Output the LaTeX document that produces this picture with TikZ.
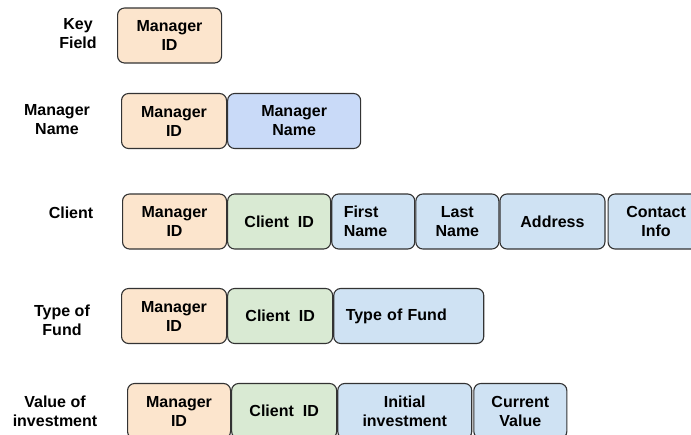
\documentclass[tikz,border=0pt]{standalone}
\usepackage{fontspec}
\setmainfont{Liberation Sans}
\usetikzlibrary{positioning}

\definecolor{keyorange}{HTML}{FCE5CD}
\definecolor{idgreen}{HTML}{D9EAD3}
\definecolor{nameblue}{HTML}{C9DAF8}
\definecolor{infoblue}{HTML}{CFE2F3}
\definecolor{edgegray}{HTML}{333333}

\begin{document}
\begin{tikzpicture}[
    x=1pt, y=-1pt,
    font=\fontsize{16}{19}\selectfont\bfseries,
    node distance=0pt,
    field/.style={draw=edgegray, line width=1.1pt, rounded corners=7pt, align=center,
        minimum width=#1, minimum height=55pt, inner xsep=12pt, inner ysep=2pt},
    mgr/.style={field=#1, fill=keyorange},
    cid/.style={field=#1, fill=idgreen},
    info/.style={field=#1, fill=infoblue},
    rowlabel/.style={align=center}
]
    \useasboundingbox (0,0) rectangle (691,434);
    \clip (0,0) rectangle (691,434);

    \node[rowlabel] (lbl-key) at (78,34) {Key\\Field};
    \node[mgr=104, anchor=west] (key-mid) at (117,35.5) {Manager\\ID};

    \node[rowlabel] (lbl-mgr) at (57,120) {Manager\\Name};
    \node[mgr=105, anchor=west] (mgr-mid) at (121,121) {Manager\\ID};
    \node[field=133, fill=nameblue, right=of mgr-mid] (mgr-name) {Manager\\Name};

    \node[rowlabel] (lbl-cli) at (71,213) {Client};
    \node[mgr=104, anchor=west] (cli-mid) at (122,221.5) {Manager\\ID};
    \node[cid=103, right=of cli-mid] (cli-id) {Client~ ID};
    \node[info=83, text width=59pt, align=left, right=of cli-id] (cli-first) {First\\Name};
    \node[info=83, right=of cli-first] (cli-last) {Last\\Name};
    \node[info=105, right=of cli-last] (cli-addr) {Address};
    \node[info=96, right=2pt of cli-addr] (cli-contact) {Contact\\Info};

    \node[rowlabel] (lbl-fund) at (62,320) {Type of\\Fund};
    \node[mgr=105, anchor=west] (fund-mid) at (121,316) {Manager\\ID};
    \node[cid=105, right=of fund-mid] (fund-id) {Client~ ID};
    \node[info=150, text width=126pt, align=left, right=of fund-id] (fund-type) {Type of Fund};

    \node[rowlabel] (lbl-val) at (55,411) {Value of\\investment};
    \node[mgr=103, anchor=west] (val-mid) at (127,411) {Manager\\ID};
    \node[cid=105, right=of val-mid] (val-id) {Client~ ID};
    \node[info=134, right=of val-id] (val-init) {Initial\\investment};
    \node[info=93, right=1pt of val-init] (val-cur) {Current\\Value};
\end{tikzpicture}
\end{document}
